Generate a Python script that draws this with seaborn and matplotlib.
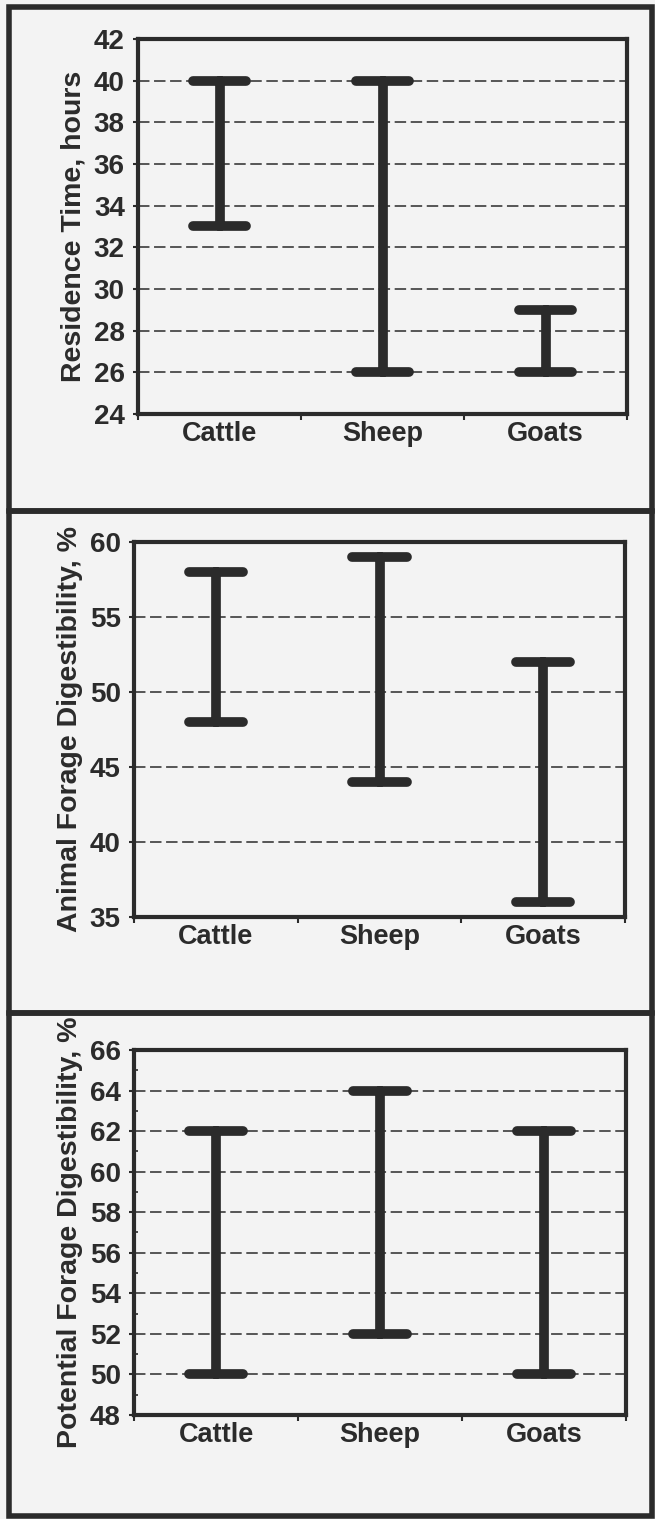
import numpy as np
import pandas as pd
import matplotlib
matplotlib.use("Agg")
import matplotlib.pyplot as plt
from matplotlib.patches import Rectangle
from matplotlib.ticker import MultipleLocator
import seaborn as sns

# データ
animals = ["Cattle", "Sheep", "Goats"]

residence_low = [33, 26, 26]
residence_high = [40, 40, 29]

animal_dig_low = [48, 44, 36]
animal_dig_high = [58, 59, 52]

potential_dig_low = [50, 52, 50]
potential_dig_high = [62, 64, 62]

ylabels = ["Residence Time, hours",
           "Animal Forage Digestibility, %",
           "Potential Forage Digestibility, %"]

ink = "#2b2b2b"
paper = "#f3f3f3"

sns.set_theme(style="white", rc={"axes.facecolor": paper, "figure.facecolor": paper})
plt.rcParams["font.family"] = ["Liberation Sans", "DejaVu Sans"]
plt.rcParams["font.weight"] = "bold"


def to_long(low, high):
    # 各カテゴリの最小・最大を縦持ちにする
    return pd.DataFrame({
        "animal": animals * 2,
        "value": list(low) + list(high),
    })


panels = [
    (to_long(residence_low, residence_high), (24, 42), 2, None),
    (to_long(animal_dig_low, animal_dig_high), (35, 60), 5, None),
    (to_long(potential_dig_low, potential_dig_high), (48, 66), 2, 1),
]

W, H = 655, 1519
fig = plt.figure(figsize=(W / 100, H / 100), dpi=100)

# 軸の位置 (ピクセル: left, right, top, bottom)
boxes = [(138, 627, 39, 414), (134, 625, 542, 917), (134, 626, 1050, 1415)]
# パネル枠 (ピクセル: top, bottom)
frames = [(7, 511), (511, 1013), (1013, 1516)]

for (top, bot) in frames:
    fig.patches.append(Rectangle((9 / W, 1 - bot / H), (652 - 9) / W, (bot - top) / H,
                                 transform=fig.transFigure, fill=False,
                                 edgecolor=ink, linewidth=4, zorder=0))

for i, (df, ylim, step, minor) in enumerate(panels):
    l, r, t, b = boxes[i]
    ax = fig.add_axes([l / W, 1 - b / H, (r - l) / W, (b - t) / H])
    sns.pointplot(data=df, x="animal", y="value", order=animals,
                  errorbar=("pi", 100), capsize=0.33, color=ink,
                  linestyle="none", marker="", ax=ax,
                  err_kws={"linewidth": 7, "solid_capstyle": "round"})

    ax.set_ylim(*ylim)
    ax.set_xlim(-0.5, 2.5)
    ax.yaxis.set_major_locator(MultipleLocator(step))
    if minor:
        ax.yaxis.set_minor_locator(MultipleLocator(minor))
        ax.tick_params(axis="y", which="minor", direction="in", length=3,
                       width=1.2, color=ink, left=True)

    # x軸: 区切りに目盛り、ラベルはカテゴリ中央
    ax.set_xticks([-0.5, 0.5, 1.5, 2.5])
    ax.set_xticklabels([])
    ax.set_xticks([0, 1, 2], minor=True)
    ax.set_xticklabels(animals, minor=True, fontsize=19.5, fontweight="bold", color=ink)
    ax.tick_params(axis="x", which="major", length=4, width=1.5, color=ink, bottom=True)
    ax.tick_params(axis="x", which="minor", length=0, pad=5)
    ax.tick_params(axis="y", which="major", length=3.5, width=1.5, color=ink, left=True,
                   labelsize=20, labelcolor=ink, pad=6)
    for lab in ax.get_yticklabels():
        lab.set_fontweight("bold")

    ax.set_xlabel("")
    ax.set_ylabel(ylabels[i], fontsize=20.5, fontweight="bold", color=ink, labelpad=5)

    ax.grid(axis="y", color=ink, linestyle=(0, (7.5, 3)), linewidth=1.1)
    ax.set_axisbelow(True)
    for s in ax.spines.values():
        s.set_color(ink)
        s.set_linewidth(3)

fig.savefig("out.png", dpi=100, facecolor=paper)
